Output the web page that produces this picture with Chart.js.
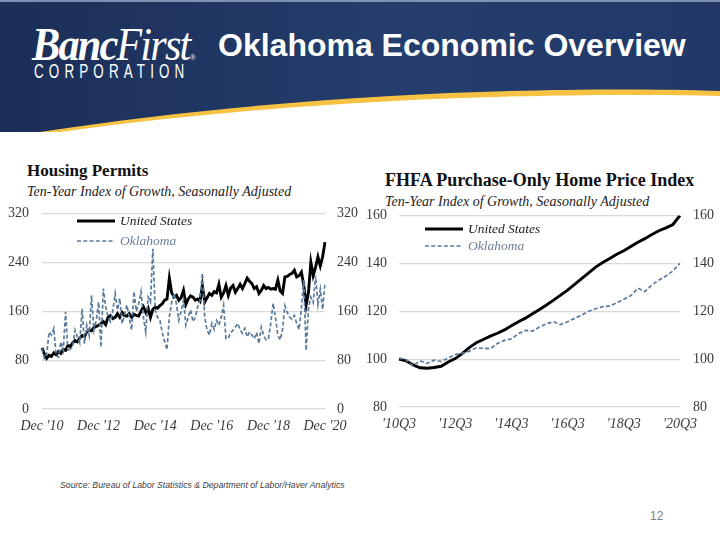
<!DOCTYPE html>
<html>
<head>
<meta charset="utf-8">
<script src="https://cdn.jsdelivr.net/npm/chart.js@4"></script>
<style>
  body { margin:0; width:720px; height:540px; background:#fff; position:relative; overflow:hidden; }
  .abs { position:absolute; white-space:nowrap; }
  .ttl { font-family:"Liberation Serif", serif; font-weight:bold; font-size:17px; color:#111; }
  .sub { font-family:"Liberation Serif", serif; font-style:italic; font-size:14px; color:#222; }
  .leg { font-family:"Liberation Serif", serif; font-style:italic; font-size:13.5px; display:flex; align-items:center; }
  .leg svg { margin-right:5px; }
  canvas { position:absolute; }
</style>
</head>
<body>
<!-- header band -->
<svg class="abs" style="left:0;top:0" width="720" height="132">
  <defs>
    <linearGradient id="navy" x1="0" y1="0" x2="1" y2="0">
      <stop offset="0" stop-color="#1b2e57"/>
      <stop offset="0.55" stop-color="#253e6d"/>
      <stop offset="1" stop-color="#213868"/>
    </linearGradient>
  </defs>
  <path d="M0,0 H720 V96 C560,92 300,98 60,132 L0,132 Z" fill="#f6c244"/>
  <path d="M0,0 H720 V91 C560,86 300,92 40,132 L0,132 Z" fill="url(#navy)"/>
  <rect x="0" y="0" width="720" height="2" fill="#7f90b2"/>
</svg>
<div class="abs" style="left:32px;top:18px;font-family:'Liberation Serif',serif;font-style:italic;font-size:46px;color:#fff;letter-spacing:-2px;transform:scaleX(0.92);transform-origin:left"><b>Banc</b>First<span style="font-size:9px;letter-spacing:0">®</span></div>
<div class="abs" style="left:34px;top:59px;font-family:'Liberation Sans',sans-serif;font-size:21px;color:#fff;letter-spacing:8px;transform:scaleX(0.64);transform-origin:left">CORPORATION</div>
<div class="abs" style="left:218px;top:27px;font-family:'Liberation Sans',Arial,sans-serif;font-weight:bold;font-size:32px;color:#fff">Oklahoma Economic Overview</div>

<!-- chart titles -->
<div class="abs ttl" style="left:27px;top:161px">Housing Permits</div>
<div class="abs sub" style="left:27px;top:184px">Ten-Year Index of Growth, Seasonally Adjusted</div>
<div class="abs ttl" style="left:385px;top:170px;font-size:18px">FHFA Purchase-Only Home Price Index</div>
<div class="abs sub" style="left:385px;top:194px">Ten-Year Index of Growth, Seasonally Adjusted</div>

<canvas id="permits" width="365" height="248" style="left:0;top:192px"></canvas>
<canvas id="hpi" width="360" height="246" style="left:360px;top:194px"></canvas>

<!-- legends -->
<div class="abs leg" style="left:77px;top:213px;color:#1a1a1a"><svg width="38" height="4"><line x1="0" y1="2" x2="38" y2="2" stroke="#000" stroke-width="3"/></svg>United States</div>
<div class="abs leg" style="left:77px;top:233px;color:#6b8099"><svg width="38" height="4"><line x1="0" y1="2" x2="38" y2="2" stroke="#5b7b9a" stroke-width="1.6" stroke-dasharray="4 2.3"/></svg>Oklahoma</div>
<div class="abs leg" style="left:425px;top:221px;color:#1a1a1a"><svg width="38" height="4"><line x1="0" y1="2" x2="38" y2="2" stroke="#000" stroke-width="3"/></svg>United States</div>
<div class="abs leg" style="left:425px;top:238px;color:#6b8099"><svg width="38" height="4"><line x1="0" y1="2" x2="38" y2="2" stroke="#5b7b9a" stroke-width="1.6" stroke-dasharray="4 2.3"/></svg>Oklahoma</div>

<div class="abs" style="left:60px;top:480px;font-family:'Liberation Sans',Arial,sans-serif;font-style:italic;font-size:8.7px;color:#404040">Source: Bureau of Labor Statistics &amp; Department of Labor/Haver Analytics</div>
<div class="abs" style="left:650px;top:509px;font-family:'Liberation Sans',Arial,sans-serif;font-size:12px;color:#808080">12</div>

<script>
// Housing permits, monthly Dec 2010 - Dec 2020 (index)
const permitsUS = [
  100, 90, 83, 88, 86, 92, 89, 94, 91, 98, 96, 104,
  102, 108, 112, 110, 116, 120, 118, 126, 129, 128, 133, 135,
  137, 140, 143, 138, 150, 153, 148, 150, 156, 150, 158, 153,
  152, 156, 150, 155, 153, 152, 160, 167, 158, 165, 150, 163,
  167, 165, 169, 172, 178, 180, 214, 190, 183, 186, 178, 182,
  194, 171, 180, 185, 183, 178, 180, 176, 202, 175, 182, 189,
  186, 192, 190, 204, 183, 190, 202, 186, 198, 202, 191, 197,
  204, 197, 205, 214, 209, 205, 197, 200, 189, 194, 202, 197,
  199, 196, 197, 196, 211, 193, 189, 216, 217, 220, 222, 227,
  216, 218, 224, 202, 170, 191, 240, 218, 232, 249, 234, 249,
  273
];
const permitsOK = [
  99, 83, 90, 126, 121, 132, 88, 85, 110, 96, 159, 94,
  98, 102, 129, 118, 108, 164, 107, 137, 120, 186, 129, 145,
  175, 101, 197, 167, 151, 143, 160, 189, 162, 181, 140, 154,
  170, 150, 129, 192, 160, 172, 192, 150, 126, 183, 175, 262,
  162, 150, 145, 125, 110, 97, 151, 175, 189, 172, 145, 160,
  178, 137, 150, 162, 143, 150, 167, 178, 222, 150, 129, 121,
  140, 130, 145, 137, 150, 170, 115, 116, 125, 129, 134, 140,
  130, 124, 132, 118, 126, 121, 115, 125, 107, 134, 120, 113,
  115, 140, 173, 150, 121, 113, 130, 169, 158, 150, 147, 153,
  140, 130, 165, 211, 96, 165, 183, 174, 218, 171, 196, 163,
  207
];
const permitsTicks = [0, 80, 160, 240, 320];

// FHFA purchase-only HPI, quarterly 2010Q3 - 2020Q3 (index)
const hpiUS = [
  100, 99.3, 97.6, 96.4, 96.2, 96.5, 97, 98.8, 100.2, 102.3,
  104.8, 106.8, 108.2, 109.6, 110.8, 112.2, 113.9, 115.6, 117.1, 118.9,
  120.7, 122.6, 124.6, 126.7, 128.8, 131.2, 133.6, 136, 138.4, 140.3,
  142, 143.8, 145.2, 147, 148.8, 150.3, 152, 153.6, 154.8, 156.2,
  160
];
const hpiOK = [
  100.4, 99.8, 97.2, 99.3, 98.2, 99.6, 99, 100.5, 101.9, 102.4,
  103.3, 104.7, 104.5, 104.3, 106.5, 107.8, 108.5, 110.6, 112, 111.7,
  113.4, 114.8, 115.6, 114.4, 115.6, 117, 118.4, 120, 121, 121.9,
  122.2, 123.5, 125, 126.5, 129.6, 128.2, 131, 133, 134.7, 136.8,
  140
];
const hpiTicks = [80, 100, 120, 140, 160];

const monthNames = ['Jan','Feb','Mar','Apr','May','Jun','Jul','Aug','Sep','Oct','Nov','Dec'];
const permitLabels = permitsUS.map((_, i) => {
  const m = (11 + i) % 12, yr = 10 + Math.floor((11 + i) / 12);
  return `${monthNames[m]} '${String(yr).padStart(2, '0')}`;
});
const hpiLabels = hpiUS.map((_, i) => {
  const q = (2 + i) % 4 + 1, yr = 10 + Math.floor((2 + i) / 4);
  return `'${yr}Q${q}`;
});

const serif = 'Liberation Serif, serif';
const tickColor = '#3a3a3a';
const okColor = '#5b7b9a';

function yAxis(pos, ticks, width, pad, grid) {
  return {
    position: pos, min: ticks[0], max: ticks[ticks.length - 1],
    afterBuildTicks: s => { s.ticks = ticks.map(v => ({ value: v })); },
    ticks: { padding: pad, color: tickColor, font: { family: serif, size: 14 } },
    grid: { display: grid, color: '#d9d9d9', lineWidth: 1.2, drawTicks: false },
    border: { display: false },
    afterFit: s => { s.width = width; }
  };
}

function makeChart(id, labels, us, ok, every, yCfg, xHeight, padTop) {
  new Chart(document.getElementById(id), {
    type: 'line',
    data: {
      labels,
      datasets: [
        { label: 'Oklahoma', data: ok, borderColor: okColor, borderWidth: 1.7, borderDash: [4, 2.3], pointRadius: 0, tension: 0 },
        { label: 'United States', data: us, borderColor: '#000', borderWidth: 2.9, pointRadius: 0, tension: 0 }
      ]
    },
    options: {
      responsive: false,
      animation: false,
      layout: { padding: { top: padTop, bottom: 0, left: 0, right: 0 } },
      plugins: { legend: { display: false }, tooltip: { enabled: false } },
      scales: {
        x: {
          grid: { display: false }, border: { display: false },
          ticks: {
            autoSkip: false, maxRotation: 0, padding: 1, color: tickColor,
            font: { family: serif, size: 14, style: 'italic' },
            callback: function (v, i) { return i % every === 0 ? this.getLabelForValue(v) : ''; }
          },
          afterFit: s => { s.height = xHeight; }
        },
        y: yCfg.left,
        y2: yCfg.right
      }
    }
  });
}

makeChart('permits', permitLabels, permitsUS, permitsOK, 24, {
  left: yAxis('left', permitsTicks, 42, 13, true),
  right: yAxis('right', permitsTicks, 40, 12, false)
}, 31, 5);

makeChart('hpi', hpiLabels, hpiUS, hpiOK, 8, {
  left: yAxis('left', hpiTicks, 39, 12, true),
  right: yAxis('right', hpiTicks, 40, 13, false)
}, 33, 9);
</script>
</body>
</html>
